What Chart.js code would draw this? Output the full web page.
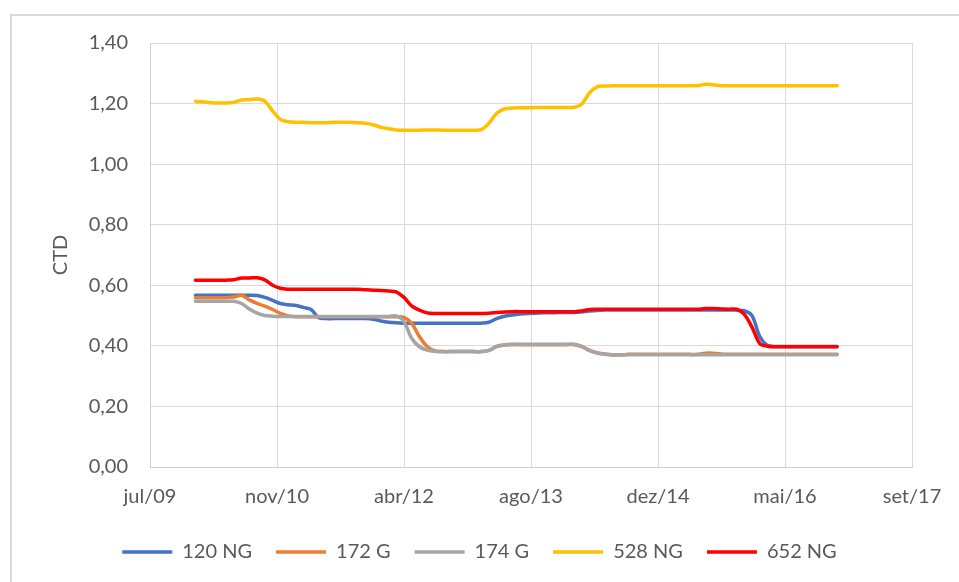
<!DOCTYPE html>
<html>
<head>
<meta charset="utf-8">
<script src="https://cdn.jsdelivr.net/npm/chart.js@4.4.1/dist/chart.umd.min.js"></script>
<style>
  html, body { margin: 0; padding: 0; background: #ffffff; }
  #wrap { width: 959px; height: 582px; position: relative; }
</style>
</head>
<body>
<div id="wrap"><canvas id="chart" width="959" height="582"></canvas></div>
<script>
// Monthly CTD readings, January 2010 to December 2016
const firstYear = 2010;
const monthCount = 84;

const seriesNames = ['120 NG', '172 G', '174 G', '528 NG', '652 NG'];
const seriesColors = ['#4472C4', '#ED7D31', '#A5A5A5', '#FFC000', '#FF0000'];

const ctd120NG = [
  0.567, 0.567, 0.567, 0.567, 0.567, 0.567, 0.567, 0.567, 0.566, 0.560, 0.550, 0.540,
  0.536, 0.533, 0.527, 0.520, 0.493, 0.490, 0.490, 0.490, 0.490, 0.490, 0.490, 0.488,
  0.482, 0.478, 0.476, 0.475, 0.475, 0.475, 0.475, 0.475, 0.475, 0.475, 0.475, 0.475,
  0.475, 0.475, 0.478, 0.490, 0.498, 0.502, 0.505, 0.507, 0.508, 0.509, 0.509, 0.510,
  0.510, 0.510, 0.512, 0.515, 0.517, 0.518, 0.518, 0.518, 0.518, 0.518, 0.518, 0.518,
  0.518, 0.518, 0.518, 0.518, 0.518, 0.518, 0.518, 0.518, 0.518, 0.518, 0.518, 0.516,
  0.500, 0.430, 0.402, 0.398, 0.398, 0.398, 0.398, 0.398, 0.398, 0.398, 0.398, 0.398
];
const ctd172G = [
  0.559, 0.559, 0.559, 0.559, 0.559, 0.561, 0.567, 0.552, 0.540, 0.531, 0.520, 0.507,
  0.499, 0.496, 0.496, 0.496, 0.496, 0.496, 0.496, 0.496, 0.496, 0.496, 0.496, 0.496,
  0.496, 0.496, 0.496, 0.494, 0.475, 0.430, 0.398, 0.383, 0.381, 0.381, 0.381, 0.381,
  0.381, 0.381, 0.385, 0.398, 0.403, 0.404, 0.404, 0.404, 0.404, 0.404, 0.404, 0.404,
  0.404, 0.404, 0.398, 0.385, 0.377, 0.373, 0.370, 0.370, 0.372, 0.372, 0.372, 0.372,
  0.372, 0.372, 0.372, 0.372, 0.372, 0.372, 0.376, 0.376, 0.373, 0.372, 0.372, 0.372,
  0.372, 0.372, 0.372, 0.372, 0.372, 0.372, 0.372, 0.372, 0.372, 0.372, 0.372, 0.372
];
const ctd174G = [
  0.547, 0.547, 0.547, 0.547, 0.547, 0.547, 0.540, 0.522, 0.508, 0.500, 0.498, 0.497,
  0.497, 0.497, 0.497, 0.497, 0.497, 0.497, 0.497, 0.497, 0.497, 0.497, 0.497, 0.497,
  0.497, 0.497, 0.499, 0.480, 0.425, 0.397, 0.386, 0.382, 0.381, 0.381, 0.381, 0.381,
  0.381, 0.381, 0.385, 0.398, 0.404, 0.405, 0.405, 0.405, 0.405, 0.405, 0.405, 0.405,
  0.405, 0.405, 0.398, 0.385, 0.376, 0.372, 0.371, 0.371, 0.371, 0.371, 0.371, 0.371,
  0.371, 0.371, 0.371, 0.371, 0.371, 0.371, 0.371, 0.371, 0.371, 0.371, 0.371, 0.371,
  0.371, 0.371, 0.371, 0.371, 0.371, 0.371, 0.371, 0.371, 0.371, 0.371, 0.371, 0.371
];
const ctd528NG = [
  1.208, 1.205, 1.203, 1.202, 1.202, 1.204, 1.212, 1.213, 1.215, 1.208, 1.175, 1.148,
  1.140, 1.138, 1.138, 1.137, 1.137, 1.137, 1.138, 1.138, 1.138, 1.137, 1.135, 1.130,
  1.122, 1.117, 1.113, 1.112, 1.112, 1.112, 1.113, 1.113, 1.112, 1.112, 1.112, 1.112,
  1.112, 1.115, 1.135, 1.168, 1.182, 1.185, 1.186, 1.186, 1.187, 1.187, 1.187, 1.187,
  1.187, 1.188, 1.198, 1.235, 1.255, 1.258, 1.259, 1.259, 1.259, 1.259, 1.259, 1.259,
  1.259, 1.259, 1.259, 1.259, 1.259, 1.259, 1.264, 1.262, 1.259, 1.259, 1.259, 1.259,
  1.259, 1.259, 1.259, 1.259, 1.259, 1.259, 1.259, 1.259, 1.259, 1.259, 1.259, 1.259
];
const ctd652NG = [
  0.617, 0.617, 0.617, 0.617, 0.617, 0.618, 0.624, 0.624, 0.625, 0.618, 0.600, 0.590,
  0.587, 0.587, 0.587, 0.587, 0.587, 0.587, 0.587, 0.587, 0.587, 0.587, 0.585, 0.584,
  0.583, 0.581, 0.578, 0.560, 0.532, 0.518, 0.509, 0.507, 0.507, 0.507, 0.507, 0.507,
  0.507, 0.507, 0.508, 0.510, 0.512, 0.513, 0.513, 0.513, 0.513, 0.513, 0.513, 0.513,
  0.513, 0.513, 0.515, 0.520, 0.521, 0.521, 0.521, 0.521, 0.521, 0.521, 0.521, 0.521,
  0.521, 0.521, 0.521, 0.521, 0.521, 0.521, 0.523, 0.523, 0.522, 0.521, 0.521, 0.505,
  0.462, 0.407, 0.399, 0.397, 0.397, 0.397, 0.397, 0.397, 0.397, 0.397, 0.397, 0.397
];

// Date axis: ticks every 500 days, starting at day 40000 (spreadsheet day numbering)
const axisStartDay = 40000;
const axisStepDays = 500;
const xTickLabels = ['jul/09', 'nov/10', 'abr/12', 'ago/13', 'dez/14', 'mai/16', 'set/17'];

// spreadsheet day number of the first day of a month
function dayNumber(year, monthIndex) {
  return Date.UTC(year, monthIndex, 1) / 86400000 + 25569;
}

const monthDays = [];
for (let i = 0; i < monthCount; i++) {
  monthDays.push(dayNumber(firstYear + Math.floor(i / 12), i % 12));
}

const allSeries = [ctd120NG, ctd172G, ctd174G, ctd528NG, ctd652NG];

const datasets = allSeries.map((values, k) => ({
  label: seriesNames[k],
  data: values.map((v, i) => ({ x: monthDays[i], y: v })),
  borderColor: seriesColors[k],
  backgroundColor: seriesColors[k],
  borderWidth: 3.5,
  borderCapStyle: 'round',
  borderJoinStyle: 'round',
  pointRadius: 0,
  pointHoverRadius: 0,
  tension: 0.35,
  fill: false,
  // later series are painted over earlier ones
  order: allSeries.length - 1 - k
}));

const textColor = '#595959';
const gridColor = '#d9d9d9';
const fontFamily = 'Lato, "Open Sans", "Liberation Sans", sans-serif';

// light frame around the whole chart
const chartFrame = {
  id: 'chartFrame',
  beforeDraw(chart) {
    const ctx = chart.ctx;
    ctx.save();
    ctx.fillStyle = '#ffffff';
    ctx.fillRect(0, 0, chart.width, chart.height);
    ctx.strokeStyle = '#d9d9d9';
    ctx.lineWidth = 2;
    ctx.strokeRect(11, 15, 2000, 2000);
    ctx.restore();
  }
};

new Chart(document.getElementById('chart'), {
  type: 'line',
  data: { datasets },
  plugins: [chartFrame],
  options: {
    responsive: false,
    animation: false,
    devicePixelRatio: 1,
    layout: { padding: { left: 0, right: 0, top: 43, bottom: 10 } },
    scales: {
      x: {
        type: 'linear',
        min: axisStartDay,
        max: axisStartDay + axisStepDays * (xTickLabels.length - 1),
        afterBuildTicks(scale) {
          scale.ticks = xTickLabels.map((_, i) => ({ value: axisStartDay + i * axisStepDays }));
        },
        afterFit(scale) {
          scale.height = 51;
          scale.paddingRight = 47;
        },
        ticks: {
          font: { family: fontFamily, size: 20 },
          color: textColor,
          padding: 18,
          maxRotation: 0,
          autoSkip: false,
          callback(value) {
            const i = Math.round((value - axisStartDay) / axisStepDays);
            return xTickLabels[i];
          }
        },
        grid: { color: gridColor, lineWidth: 1, drawTicks: false },
        border: { color: '#cfcfcf', width: 1 }
      },
      y: {
        min: 0,
        max: 1.4,
        afterFit(scale) { scale.width = 150; },
        ticks: {
          stepSize: 0.2,
          font: { family: fontFamily, size: 20 },
          color: textColor,
          padding: 22,
          callback(value) { return value.toFixed(2).replace('.', ','); }
        },
        grid: { color: gridColor, lineWidth: 1, drawTicks: false },
        border: { color: '#cfcfcf', width: 1 },
        title: {
          display: true,
          text: 'CTD',
          color: textColor,
          font: { family: fontFamily, size: 20 },
          padding: { top: 49, bottom: 0 }
        }
      }
    },
    plugins: {
      legend: {
        position: 'bottom',
        labels: {
          font: { family: fontFamily, size: 20 },
          color: textColor,
          usePointStyle: true,
          pointStyle: 'line',
          pointStyleWidth: 50,
          padding: 24,
          sort: (a, b) => a.datasetIndex - b.datasetIndex
        }
      },
      tooltip: { enabled: false }
    }
  }
});
</script>
</body>
</html>
